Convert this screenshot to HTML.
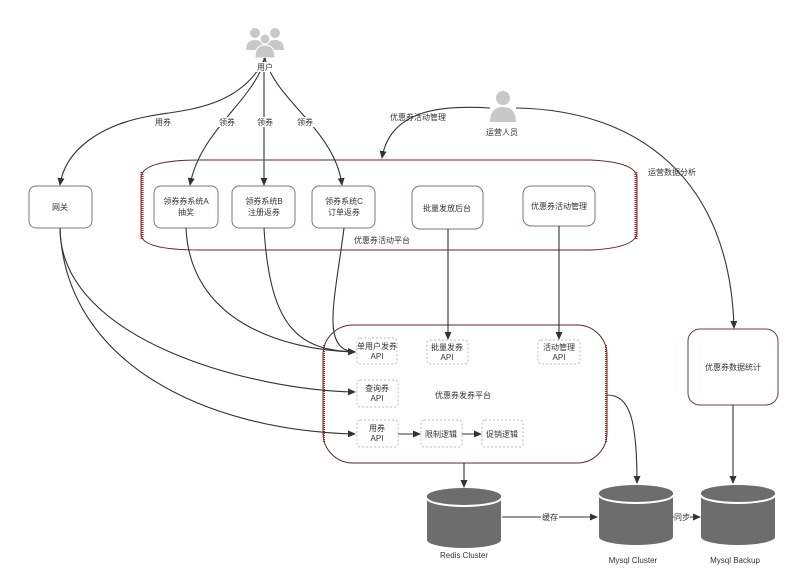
<!DOCTYPE html>
<html><head><meta charset="utf-8"><style>
html,body{margin:0;padding:0;background:#fff}
svg text{font-family:"Liberation Sans","Noto Sans CJK SC",sans-serif;font-size:8px;fill:#333;text-anchor:middle}
</style></head><body>
<svg width="800" height="570" viewBox="0 0 800 570" xmlns="http://www.w3.org/2000/svg">
<defs>
<marker id="a" markerWidth="8" markerHeight="8" refX="7" refY="4" orient="auto" markerUnits="userSpaceOnUse"><path d="M0,0.5 L8,4 L0,7.5 Z" fill="#333"/></marker>
<g id="cyl">
<path d="M0,8 L0,52 A37,8 0 0 0 74,52 L74,8 Z" fill="#6d6d6d"/>
<ellipse cx="37" cy="8" rx="37" ry="8" fill="#6d6d6d"/>
<path d="M0,10 A37,8 0 0 0 74,10" fill="none" stroke="#fff" stroke-width="2"/>
</g>
</defs>

<!-- containers -->
<path d="M141,178 Q141,160 200,160 L590,160 Q637,162 637,178 L637,232 Q637,248 590,250 L200,250 Q141,250 141,234 Z" fill="none" stroke="#5a2a2a" stroke-width="1"/>
<line x1="142" y1="172" x2="142" y2="239" stroke="#a02020" stroke-width="3" stroke-dasharray="1,1"/>
<line x1="636" y1="172" x2="636" y2="239" stroke="#a02020" stroke-width="3" stroke-dasharray="1,1"/>
<rect x="323" y="325" width="284" height="138" rx="30" fill="none" stroke="#5a2a2a"/>
<line x1="324" y1="345" x2="324" y2="443" stroke="#a02020" stroke-width="2" stroke-dasharray="1,1"/>
<line x1="606" y1="345" x2="606" y2="443" stroke="#a02020" stroke-width="2" stroke-dasharray="1,1"/>

<!-- boxes -->
<g fill="#fff" stroke="#8a7272">
<rect x="29" y="186" width="63" height="42" rx="7"/>
<rect x="154" y="186" width="64" height="42" rx="7"/>
<rect x="232" y="186" width="63" height="42" rx="7"/>
<rect x="312" y="186" width="63" height="42" rx="7"/>
<rect x="412" y="186" width="71" height="43" rx="8"/>
<rect x="523" y="186" width="72" height="40" rx="8"/>
<rect x="688" y="329" width="90" height="76" rx="12" stroke="#6a4040"/>
</g>
<g fill="#fff" stroke="#bbb" stroke-dasharray="2,2">
<rect x="357" y="338" width="40" height="26" rx="3"/>
<rect x="427" y="340" width="41" height="24" rx="3"/>
<rect x="538" y="340" width="42" height="24" rx="3"/>
<rect x="357" y="380" width="41" height="27" rx="3"/>
<rect x="357" y="420" width="41" height="27" rx="3"/>
<rect x="421" y="420" width="41" height="27" rx="3"/>
<rect x="482" y="420" width="41" height="27" rx="3"/>
</g>

<!-- icons -->
<g fill="#c8c8c8">
<circle cx="255" cy="33" r="5"/><circle cx="275" cy="33" r="5"/>
<path d="M246,50 Q246,40 255,40 Q264,40 264,50 Z"/><path d="M266,50 Q266,40 275,40 Q284,40 284,50 Z"/>
<circle cx="265" cy="39" r="5" stroke="#fff"/>
<path d="M255,58 Q255,45 265,45 Q275,45 275,58 Z" stroke="#fff"/>
<circle cx="503" cy="98" r="7"/>
<path d="M490,122 Q490,107 503,107 Q516,107 516,122 Z"/>
</g>

<!-- connectors -->
<g fill="none" stroke="#333" stroke-width="1.1" marker-end="url(#a)">
<path d="M265,58 C240,110 180,110 150,116 C100,125 65,150 60,185"/>
<path d="M265,58 C255,100 200,130 190,185"/>
<path d="M264,58 L264,185"/>
<path d="M265,58 C275,100 335,130 342,185"/>
<path d="M490,108 C440,105 390,110 382,158"/>
<path d="M516,108 C640,110 730,180 734,328"/>
<path d="M186,228 C190,320 280,350 355,352"/>
<path d="M264,228 C270,330 300,350 355,352"/>
<path d="M344,228 C335,300 320,350 355,352"/>
<path d="M60,228 C60,340 250,390 355,392"/>
<path d="M60,228 C65,360 200,430 355,434"/>
<path d="M448,229 L448,339"/>
<path d="M559,226 L559,339"/>
<path d="M398,434 L420,434"/>
<path d="M462,434 L481,434"/>
<path d="M607,395 C630,395 637,420 637,483"/>
<path d="M464,463 L464,487"/>
<path d="M733,405 L733,483"/>
<path d="M502,517 L597,517"/>
<path d="M667,517 L700,517"/>
</g>

<!-- cylinders -->
<use href="#cyl" x="427" y="488"/>
<use href="#cyl" x="599" y="485" transform="translate(0,0)"/>
<use href="#cyl" x="701" y="485"/>

<!-- labels with background -->
<g fill="#fff">
<rect x="154" y="117" width="18" height="10"/><rect x="218" y="117" width="18" height="10"/>
<rect x="256" y="117" width="18" height="10"/><rect x="296" y="117" width="18" height="10"/>
<rect x="541" y="512" width="18" height="10"/><rect x="674" y="512" width="16" height="10"/>
<rect x="255" y="62" width="20" height="10"/>
</g>
<text x="163" y="125">用券</text><text x="227" y="125">领券</text><text x="265" y="125">领券</text><text x="305" y="125">领券</text>
<text x="265" y="70">用户</text>
<text x="502" y="135">运营人员</text>
<text x="418" y="120">优惠券活动管理</text>
<text x="672" y="175">运营数据分析</text>
<text x="60" y="210">网关</text>
<text x="186" y="204">领券券系统A</text><text x="186" y="215">抽奖</text>
<text x="264" y="204">领券系统B</text><text x="264" y="215">注册返券</text>
<text x="344" y="204">领券系统C</text><text x="344" y="215">订单返券</text>
<text x="447" y="211">批量发放后台</text>
<text x="559" y="209">优惠券活动管理</text>
<text x="382" y="243">优惠券活动平台</text>
<text x="377" y="349">单用户发券</text><text x="377" y="359">API</text>
<text x="447" y="350">批量发券</text><text x="447" y="360">API</text>
<text x="559" y="350">活动管理</text><text x="559" y="360">API</text>
<text x="377" y="391">查询券</text><text x="377" y="401">API</text>
<text x="377" y="431">用券</text><text x="377" y="441">API</text>
<text x="441" y="437">限制逻辑</text><text x="502" y="437">促销逻辑</text>
<text x="463" y="398">优惠券发券平台</text>
<text x="733" y="370">优惠券数据统计</text>
<text x="550" y="520">缓存</text><text x="682" y="520">同步</text>
<text x="464" y="558">Redis Cluster</text>
<text x="633" y="563">Mysql Cluster</text>
<text x="735" y="563">Mysql Backup</text>
</svg>
</body></html>
